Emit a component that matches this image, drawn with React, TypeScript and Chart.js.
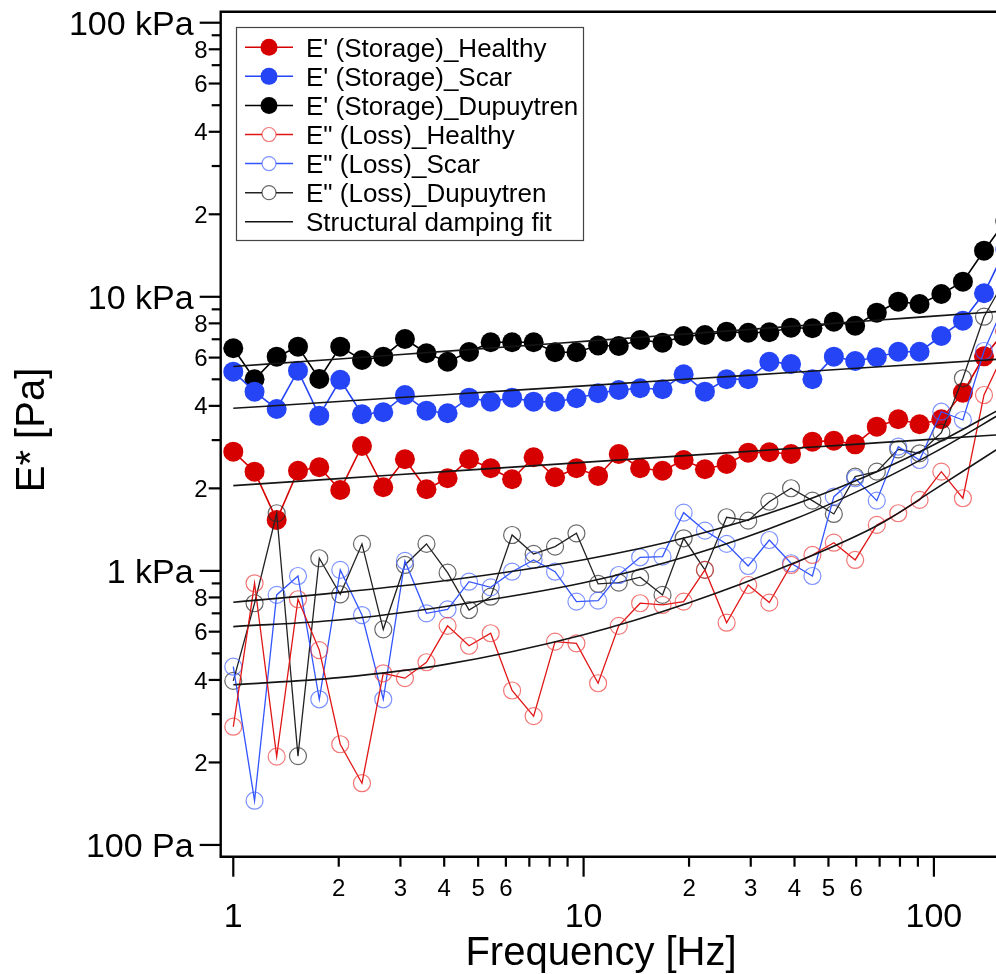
import { useEffect, useRef } from "react";
import { Chart, registerables } from "chart.js";

Chart.register(...registerables);

// Oscillation frequencies of the sweep [Hz]
const frequencyHz = [
  1, 1.15, 1.33, 1.53, 1.76, 2.02, 2.33, 2.68, 3.09, 3.56, 4.09, 4.71, 5.43,
  6.25, 7.2, 8.29, 9.54, 11.0, 12.6, 14.5, 16.8, 19.3, 22.2, 25.6, 29.5, 33.9,
  39.1, 45.0, 51.8, 59.6, 68.7, 79.1, 91.0, 105, 121, 139, 160,
];

// Storage modulus E' [Pa]
const storageHealthy = [
  2722, 2301, 1534, 2320, 2388, 1973, 2856, 2018, 2554, 1985, 2177, 2554, 2368,
  2159, 2597, 2195, 2368, 2220, 2670, 2368, 2320, 2538, 2348, 2455, 2699, 2708,
  2670, 2961, 2985, 2896, 3359, 3574, 3426, 3574, 4469, 6065, 7483,
];
const storageScar = [
  5332, 4507, 3896, 5376, 3684, 4977, 3727, 3790, 4383, 3841, 3758, 4285, 4143,
  4285, 4143, 4143, 4264, 4446, 4571, 4637, 4598, 5217, 4507, 5001, 5001, 5797,
  5686, 5001, 6046, 5832, 6016, 6305, 6305, 7194, 8180, 10299, 14918,
];
const storageDupuytren = [
  6488, 5001, 6046, 6577, 5013, 6577, 5880, 6046, 7016, 6222, 5797, 6290, 6823,
  6823, 6823, 6275, 6275, 6640, 6615, 6958, 6802, 7194, 7255, 7459, 7396, 7421,
  7714, 7675, 8111, 7843, 8750, 9598, 9413, 10238, 11353, 14731, 18900,
];

// Loss modulus E'' [Pa]
const lossHealthy = [
  270, 901, 210, 788, 514, 233, 168, 423, 406, 464, 630, 533, 592, 366, 295,
  552, 544, 389, 630, 762, 751, 772, 1008, 647, 888, 766, 1051, 1143, 1267,
  1096, 1471, 1623, 1815, 2301, 1841, 4383, 6396,
];
const lossScar = [
  447, 145, 817, 958, 340, 1008, 690, 340, 1087, 700, 724, 913, 871, 993, 1096,
  993, 772, 779, 966, 1121, 1127, 1631, 1402, 1254, 1042, 1296, 1066, 958, 1865,
  2177, 1804, 2839, 2538, 3808, 3552, 6343, 9575,
];
const lossDupuytren = [
  397, 762, 1623, 211, 1112, 821, 1254, 612, 1051, 1254, 985, 720, 805, 1352,
  1153, 1226, 1371, 896, 906, 948, 817, 1315, 1008, 1569, 1525, 1788, 2002, 1804,
  1613, 2207, 2301, 2777, 2685, 3194, 5043, 8460, 11634,
];

// Structural damping model curves
const fitFrequencyHz = [1, 2, 4, 10, 20, 40, 70, 100, 160];
const fitStorageHealthy = [2046, 2170, 2302, 2488, 2639, 2800, 2936, 3026, 3150];
const fitStorageScar = [3919, 4148, 4391, 4733, 5010, 5304, 5553, 5717, 5939];
const fitStorageDupuytren = [5565, 5932, 6322, 6878, 7331, 7814, 8227, 8501, 8878];
const fitLossHealthy = [384, 408, 455, 585, 765, 1070, 1480, 1975, 2905];
const fitLossScar = [626, 662, 740, 905, 1135, 1545, 2130, 2700, 3830];
const fitLossDupuytren = [768, 833, 920, 1098, 1332, 1746, 2324, 2885, 3984];

// Axis ranges and tick labels
const xRange = [0.9206, 150.4];
const yRange = [90.6, 109700];
const xDecades = [1, 10, 100];
const xMajorLabels = ["1", "10", "100"];
const xMinorLabelled = [2, 3, 4, 5, 6];
const yDecades = [100, 1000, 10000, 100000];
const yMajorLabels = ["100 Pa", "1 kPa", "10 kPa", "100 kPa"];
const yMinorLabelled = [2, 4, 6, 8];

const FONT = '"Liberation Sans", Arial, sans-serif';

const RED = "#d60000";
const BLUE = "#2444f6";
const BLACK = "#000000";

type Series = {
  label: string;
  color: string;
  filled: boolean;
  values: number[];
};

const measured: Series[] = [
  { label: "E' (Storage)_Healthy", color: RED, filled: true, values: storageHealthy },
  { label: "E' (Storage)_Scar", color: BLUE, filled: true, values: storageScar },
  { label: "E' (Storage)_Dupuytren", color: BLACK, filled: true, values: storageDupuytren },
  { label: 'E" (Loss)_Healthy', color: "#e01515", filled: false, values: lossHealthy },
  { label: 'E" (Loss)_Scar', color: "#3355ff", filled: false, values: lossScar },
  { label: 'E" (Loss)_Dupuytren', color: "#222222", filled: false, values: lossDupuytren },
];

const hollowStroke: Record<string, string> = {
  "#e01515": "rgba(236, 60, 60, 0.7)",
  "#3355ff": "rgba(70, 100, 255, 0.7)",
  "#222222": "rgba(40, 40, 40, 0.7)",
};

const fits = [
  fitStorageHealthy,
  fitStorageScar,
  fitStorageDupuytren,
  fitLossHealthy,
  fitLossScar,
  fitLossDupuytren,
];

function pairs(xs: number[], ys: number[]) {
  return xs.map((x, i) => ({ x, y: ys[i] }));
}

const axesPlugin = {
  id: "frameAxesLegend",
  afterDraw(chart: any) {
    const { ctx, chartArea, scales } = chart;
    const xs = scales.x;
    const ys = scales.y;
    const { left, right, top, bottom } = chartArea;
    ctx.save();
    ctx.strokeStyle = "#000";
    ctx.fillStyle = "#000";
    ctx.lineCap = "butt";

    // frame: left axis, top edge, bottom axis
    ctx.lineWidth = 2.4;
    ctx.beginPath();
    ctx.moveTo(right + 2, top);
    ctx.lineTo(left, top);
    ctx.lineTo(left, bottom);
    ctx.lineTo(right + 2, bottom);
    ctx.stroke();

    // y ticks and labels
    ctx.lineWidth = 2.2;
    for (let d = 0; d < yDecades.length; d++) {
      for (let m = 1; m <= 9; m++) {
        const v = yDecades[d] * m;
        if (v < yRange[0] || v > yRange[1]) continue;
        const y = ys.getPixelForValue(v);
        const len = m === 1 ? 21 : yMinorLabelled.includes(m) ? 12 : 9;
        ctx.beginPath();
        ctx.moveTo(left - len, y);
        ctx.lineTo(left, y);
        ctx.stroke();
        ctx.textAlign = "right";
        ctx.textBaseline = "alphabetic";
        if (m === 1) {
          ctx.font = `34px ${FONT}`;
          ctx.fillText(yMajorLabels[d], left - 27, y + 0.358 * 34);
        } else if (yMinorLabelled.includes(m)) {
          ctx.font = `24px ${FONT}`;
          ctx.fillText(String(m), left - 13, y + 0.358 * 24);
        }
      }
    }

    // x ticks and labels
    for (let d = 0; d < xDecades.length; d++) {
      for (let m = 1; m <= 9; m++) {
        const v = xDecades[d] * m;
        if (v < xRange[0] || v > xRange[1]) continue;
        const x = xs.getPixelForValue(v);
        const len = m === 1 ? 20 : 10;
        ctx.beginPath();
        ctx.moveTo(x, bottom);
        ctx.lineTo(x, bottom + len);
        ctx.stroke();
        ctx.textAlign = "center";
        ctx.textBaseline = "alphabetic";
        if (m === 1) {
          ctx.font = `34px ${FONT}`;
          ctx.fillText(xMajorLabels[d], x, bottom + 58 + 0.358 * 34);
        } else if (xMinorLabelled.includes(m)) {
          ctx.font = `24px ${FONT}`;
          ctx.fillText(String(m), x, bottom + 31 + 0.358 * 24);
        }
      }
    }

    // axis titles
    ctx.font = `40px ${FONT}`;
    ctx.textAlign = "center";
    ctx.fillText("Frequency [Hz]", 601, 951 + 0.358 * 40);
    ctx.save();
    ctx.translate(30 + 0.358 * 40, 430);
    ctx.rotate(-Math.PI / 2);
    ctx.fillText("E* [Pa]", 0, 0);
    ctx.restore();

    // legend
    const bx = 236.5;
    const by = 27.5;
    const bw = 347;
    const bh = 213;
    ctx.fillStyle = "#fff";
    ctx.fillRect(bx, by, bw, bh);
    ctx.strokeStyle = "#444";
    ctx.lineWidth = 1.2;
    ctx.strokeRect(bx, by, bw, bh);
    const rows = [...measured.map((s) => s.label), "Structural damping fit"];
    rows.forEach((label, i) => {
      const cy = 47.3 + i * 29.07;
      const s = measured[i];
      const color = s ? s.color : "#111";
      ctx.strokeStyle = color;
      ctx.lineWidth = 1.5;
      ctx.beginPath();
      ctx.moveTo(245, cy);
      ctx.lineTo(293, cy);
      ctx.stroke();
      if (s) {
        ctx.beginPath();
        if (s.filled) {
          ctx.arc(269, cy, 8.5, 0, Math.PI * 2);
          ctx.fillStyle = color;
          ctx.fill();
        } else {
          ctx.arc(269, cy, 7, 0, Math.PI * 2);
          ctx.fillStyle = "#fff";
          ctx.fill();
          ctx.strokeStyle = hollowStroke[color];
          ctx.lineWidth = 1.2;
          ctx.stroke();
        }
      }
      ctx.fillStyle = "#000";
      ctx.font = `26px ${FONT}`;
      ctx.textAlign = "left";
      ctx.fillText(label, 306, cy + 0.358 * 26);
    });
    ctx.restore();
  },
};

export default function App() {
  const canvasRef = useRef<HTMLCanvasElement | null>(null);

  useEffect(() => {
    const canvas = canvasRef.current;
    if (!canvas) return;

    const dataSets: any[] = [];
    fits.forEach((vals) => {
      dataSets.push({
        data: pairs(fitFrequencyHz, vals),
        borderColor: "#151515",
        borderWidth: 1.6,
        pointRadius: 0,
        cubicInterpolationMode: "monotone",
        order: 0,
      });
    });
    measured.forEach((s) => {
      dataSets.push({
        label: s.label,
        data: pairs(frequencyHz, s.values),
        borderColor: s.color,
        borderWidth: s.filled ? 1.6 : 1.3,
        pointRadius: s.filled ? 10 : 8.5,
        pointBackgroundColor: s.filled ? s.color : "rgba(0,0,0,0)",
        pointBorderColor: s.filled ? s.color : hollowStroke[s.color],
        pointBorderWidth: s.filled ? 0 : 1.2,
        tension: 0,
        order: s.filled ? 2 : 1,
      });
    });

    const chart = new Chart(canvas, {
      type: "line",
      data: { datasets: dataSets },
      options: {
        animation: false,
        responsive: false,
        devicePixelRatio: 1,
        layout: { autoPadding: false, padding: { top: 11.7, right: 0, left: 0, bottom: 0 } },
        plugins: { legend: { display: false }, tooltip: { enabled: false } },
        events: [],
        scales: {
          x: {
            type: "logarithmic",
            min: xRange[0],
            max: xRange[1],
            ticks: { display: false },
            grid: { display: false },
            border: { display: false },
            afterFit: (s: any) => {
              s.height = 974 - 856.7;
            },
          },
          y: {
            type: "logarithmic",
            min: yRange[0],
            max: yRange[1],
            ticks: { display: false },
            grid: { display: false },
            border: { display: false },
            afterFit: (s: any) => {
              s.width = 220.7;
            },
          },
        },
      },
      plugins: [axesPlugin],
    } as any);

    return () => chart.destroy();
  }, []);

  return (
    <div
      style={{
        position: "absolute",
        left: 0,
        top: 0,
        width: 996,
        height: 974,
        background: "#fff",
        overflow: "hidden",
      }}
    >
      <canvas ref={canvasRef} width={996} height={974} style={{ display: "block" }} />
    </div>
  );
}
